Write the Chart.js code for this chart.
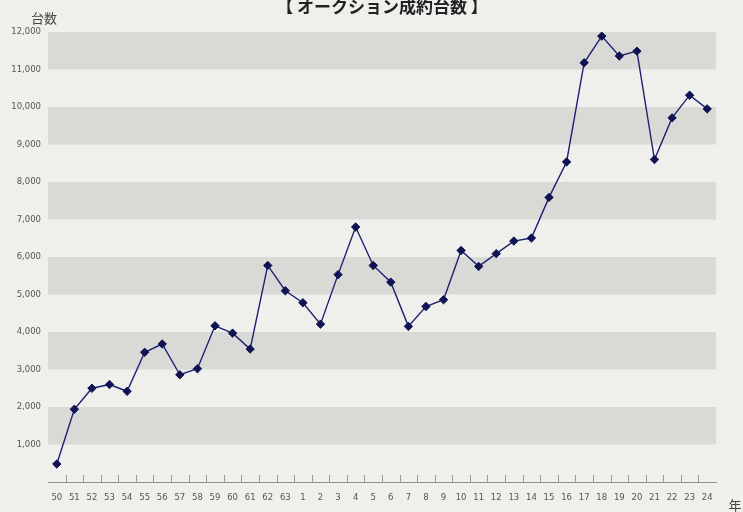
<!DOCTYPE html>
<html>
<head>
<meta charset="utf-8">
<script src="https://cdn.jsdelivr.net/npm/chart.js@4"></script>
<style>
  html, body { margin: 0; padding: 0; background: #efefec; }
  #wrap { width: 743px; height: 512px; }
</style>
</head>
<body>
<div id="wrap"><canvas id="auctionChart" width="743" height="512"></canvas></div>
<script>
// 年 (昭和50〜63, 平成1〜24)
const years = [
  "50", "51", "52", "53", "54", "55", "56", "57", "58", "59", "60", "61", "62", "63",
  "1", "2", "3", "4", "5", "6", "7", "8", "9", "10", "11", "12",
  "13", "14", "15", "16", "17", "18", "19", "20", "21", "22", "23", "24",
];
// オークション成約台数
const units = [
  480, 1940, 2500, 2600, 2420, 3460, 3680, 2860, 3020, 4165, 3970, 3545, 5775, 5100,
  4780, 4210, 5530, 6800, 5775, 5330, 4150, 4680, 4860, 6175, 5750, 6090,
  6425, 6505, 7590, 8535, 11180, 11890, 11360, 11490, 8600, 9710, 10315, 9950,
];
const yMax = 12000;
const yStep = 1000;

const titleText = "【 オークション成約台数 】";
const yUnit = "台数";
const xUnit = "年";

const ctx = document.getElementById("auctionChart").getContext("2d");

// paper background + grey bands every other 1,000
const bands = {
  id: "bands",
  beforeDraw(chart) {
    const c = chart.ctx;
    c.save();
    c.fillStyle = "#efefec";
    c.fillRect(0, 0, chart.width, chart.height);
    const { left, right } = chart.chartArea;
    const y = chart.scales.y;
    c.fillStyle = "#d9d9d6";
    for (let v = yStep; v < yMax; v += 2 * yStep) {
      const top = y.getPixelForValue(v + yStep);
      const bottom = y.getPixelForValue(v);
      c.fillRect(left, top, right - left, bottom - top);
    }
    c.restore();
  },
};

// small ticks rising from the x axis between categories, plus texts
const extras = {
  id: "extras",
  afterDraw(chart) {
    const c = chart.ctx;
    const x = chart.scales.x;
    const { bottom } = chart.chartArea;
    c.save();
    c.strokeStyle = "#9a9a98";
    c.lineWidth = 1;
    c.beginPath();
    for (let i = 1; i < years.length; i++) {
      const px = Math.round((x.getPixelForValue(i - 1) + x.getPixelForValue(i)) / 2) + 0.5;
      c.moveTo(px, bottom);
      c.lineTo(px, bottom - 7);
    }
    c.stroke();

    c.fillStyle = "#222";
    c.font = "bold 17px 'Noto Sans CJK JP'";
    c.textAlign = "center";
    c.textBaseline = "middle";
    c.fillText(titleText, 382, 7);

    c.fillStyle = "#444";
    c.font = "13px 'Noto Sans CJK JP'";
    c.fillText(yUnit, 44, 18);
    c.fillText(xUnit, 735, 505);
    c.restore();
  },
};

new Chart(ctx, {
  type: "line",
  data: {
    labels: years,
    datasets: [
      {
        label: "成約台数",
        data: units,
        borderColor: "#1c2172",
        borderWidth: 1.4,
        tension: 0,
        pointStyle: "rectRot",
        pointRadius: 4.2,
        pointBackgroundColor: "#0f1352",
        pointBorderColor: "#0f1352",
        pointBorderWidth: 1,
      },
    ],
  },
  options: {
    responsive: false,
    animation: false,
    layout: { padding: { top: 32, right: 27, left: 1, bottom: 0 } },
    plugins: {
      legend: { display: false },
      tooltip: { enabled: false },
    },
    scales: {
      x: {
        type: "category",
        offset: true,
        grid: { display: false, drawTicks: false },
        border: { display: true, color: "#8e8e8c", width: 1 },
        ticks: {
          autoSkip: false,
          maxRotation: 0,
          padding: 11,
          color: "#555",
          font: { family: "DejaVu Sans", size: 8.5 },
        },
        afterFit(s) { s.height = 30; },
      },
      y: {
        min: 0,
        max: yMax,
        grid: { display: false, drawTicks: false },
        border: { display: false },
        ticks: {
          stepSize: yStep,
          padding: 7,
          color: "#555",
          font: { family: "DejaVu Sans", size: 8.5 },
          callback: (v) => (v === 0 ? "" : v.toLocaleString("en-US")),
        },
        afterFit(s) { s.width = 47; },
      },
    },
  },
  plugins: [bands, extras],
});
</script>
</body>
</html>
